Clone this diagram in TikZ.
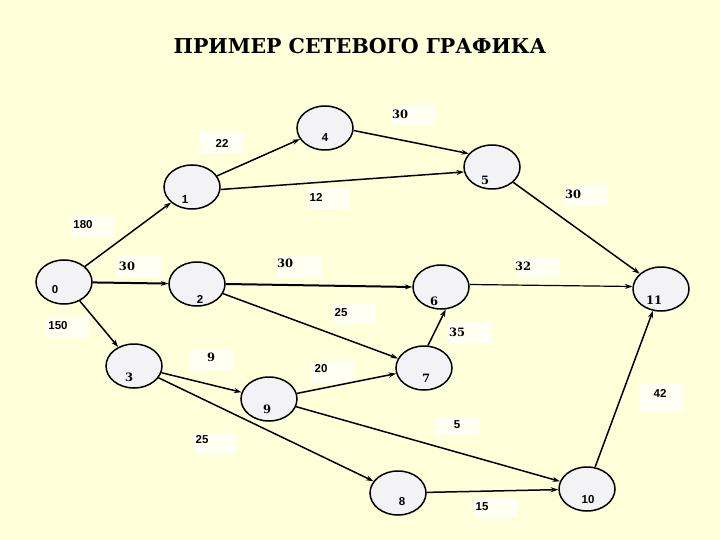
\documentclass[tikz,border=0pt]{standalone}
\usepackage{fontspec}
\setmainfont{DejaVu Serif}
\newfontfamily\dserif{DejaVu Serif}
\newfontfamily\lsans{Liberation Sans}
\usetikzlibrary{shapes.geometric,arrows.meta}
\definecolor{bgc}{HTML}{FFFFDA}
\definecolor{nodec}{HTML}{F3F3F6}
\definecolor{boxc}{HTML}{FFFFF4}
\begin{document}
\begin{tikzpicture}[x=1pt,y=-1pt,
  ev/.style={ellipse, draw, line width=1.5pt, fill=nodec, minimum width=56pt, minimum height=44pt, inner sep=0pt},
  lbox/.style={fill=boxc, minimum width=43pt, minimum height=21pt, inner sep=0pt},
  ts/.style={font=\lsans\bfseries\fontsize{11.5}{12}\selectfont, inner sep=0pt},
  tr/.style={font=\dserif\bfseries\fontsize{11.5}{12}\selectfont, inner sep=0pt},
  ed/.style={line width=1.5pt, -{Stealth[length=7.5pt,width=5pt]}},
  edb/.style={ed, line width=2pt},
  edt/.style={ed, line width=1.2pt}]
\fill[bgc] (0,0) rectangle (720,540);
\useasboundingbox (0,0) rectangle (720,540);
% title
\node[font=\dserif\bfseries\fontsize{20.5}{22}\selectfont, inner sep=0pt] (title) at (360,46) {ПРИМЕР СЕТЕВОГО ГРАФИКА};
% label boxes
\node[lbox] (b1) at (413.5,116) {};
\node[lbox] (b2) at (221.5,143) {};
\node[lbox] (b3) at (328.5,199) {};
\node[lbox] (b4) at (92.5,226) {};
\node[lbox] (b5) at (139,266.5) {};
\node[lbox] (b6) at (299,266) {};
\node[lbox] (b7) at (354,313) {};
\node[lbox] (b8) at (586.5,196) {};
\node[lbox] (b9) at (538.5,267) {};
\node[lbox] (b10) at (67,327.5) {};
\node[lbox] (b11) at (469,332.5) {};
\node[lbox] (b12) at (211,360) {};
\node[lbox] (b13) at (332.5,372) {};
\node[lbox, minimum height=28pt] (b14) at (661.5,397.5) {};
\node[lbox, minimum height=18pt] (b15) at (457,426) {};
\node[lbox] (b16) at (214,443.5) {};
\node[lbox] (b17) at (495,507.5) {};
% events
\node[ev] (n0) at (64,282) {};
\node[ev] (n1) at (192,187) {};
\node[ev] (n4) at (325,128) {};
\node[ev] (n2) at (197,284) {};
\node[ev] (n5) at (492,167) {};
\node[ev] (n6) at (441,287) {};
\node[ev] (n11) at (661,289) {};
\node[ev] (n3) at (134,366) {};
\node[ev] (n9) at (269,399) {};
\node[ev] (n7) at (424,368) {};
\node[ev] (n8) at (398,493) {};
\node[ev] (n10) at (587,489) {};
% activities
\draw[ed] (n0) -- (n1);
\draw[edb] (n0) -- (n2);
\draw[ed] (n0) -- (n3);
\draw[ed] (n1) -- (n4);
\draw[ed] (n1.-5) -- (n5.190);
\draw[ed] (n4.-5) -- (n5.150);
\draw[edb] (n2.0) -- (n6.180);
\draw[ed] (n2) -- (n7);
\draw[ed] (n5) -- (n11);
\draw[edt] (n6.5) -- (n11.175);
\draw[ed] (n7.80) -- (n6.-78);
\draw[ed] (n3) -- (n9);
\draw[ed] (n3) -- (n8);
\draw[ed] (n9) -- (n7);
\draw[ed] (n9) -- (n10);
\draw[ed] (n8) -- (n10);
\draw[ed] (n10) -- (n11);
% event numbers
\node[ts] (t0) at (55,290) {0};
\node[ts] (t1) at (185,200) {1};
\node[ts] (t4) at (325,138) {4};
\node[ts] (t2) at (200,299) {2};
\node[tr] (t5) at (485,180) {5};
\node[tr] (t6) at (434,301) {6};
\node[tr] (t11) at (654,300) {11};
\node[tr] (t3) at (129,377) {3};
\node[tr] (t9) at (267,409) {9};
\node[tr] (t7) at (426,378) {7};
\node[ts] (t8) at (402,502) {8};
\node[ts] (t10) at (588,500) {10};
% durations
\node[tr] (d1) at (400,114) {30};
\node[ts] (d2) at (222,143) {22};
\node[ts] (d3) at (316,197) {12};
\node[ts] (d4) at (83,225) {180};
\node[tr] (d5) at (127,266) {30};
\node[tr] (d6) at (285,263) {30};
\node[ts] (d7) at (341,313) {25};
\node[tr] (d8) at (573,194) {30};
\node[tr] (d9) at (523,266) {32};
\node[ts] (d10) at (58,326) {150};
\node[tr] (d11) at (457,332) {35};
\node[tr] (d12) at (211,357) {9};
\node[ts] (d13) at (321,369) {20};
\node[ts] (d14) at (660,393) {42};
\node[ts] (d15) at (457,425) {5};
\node[ts] (d16) at (202,440) {25};
\node[ts] (d17) at (482,507) {15};
\end{tikzpicture}
\end{document}
